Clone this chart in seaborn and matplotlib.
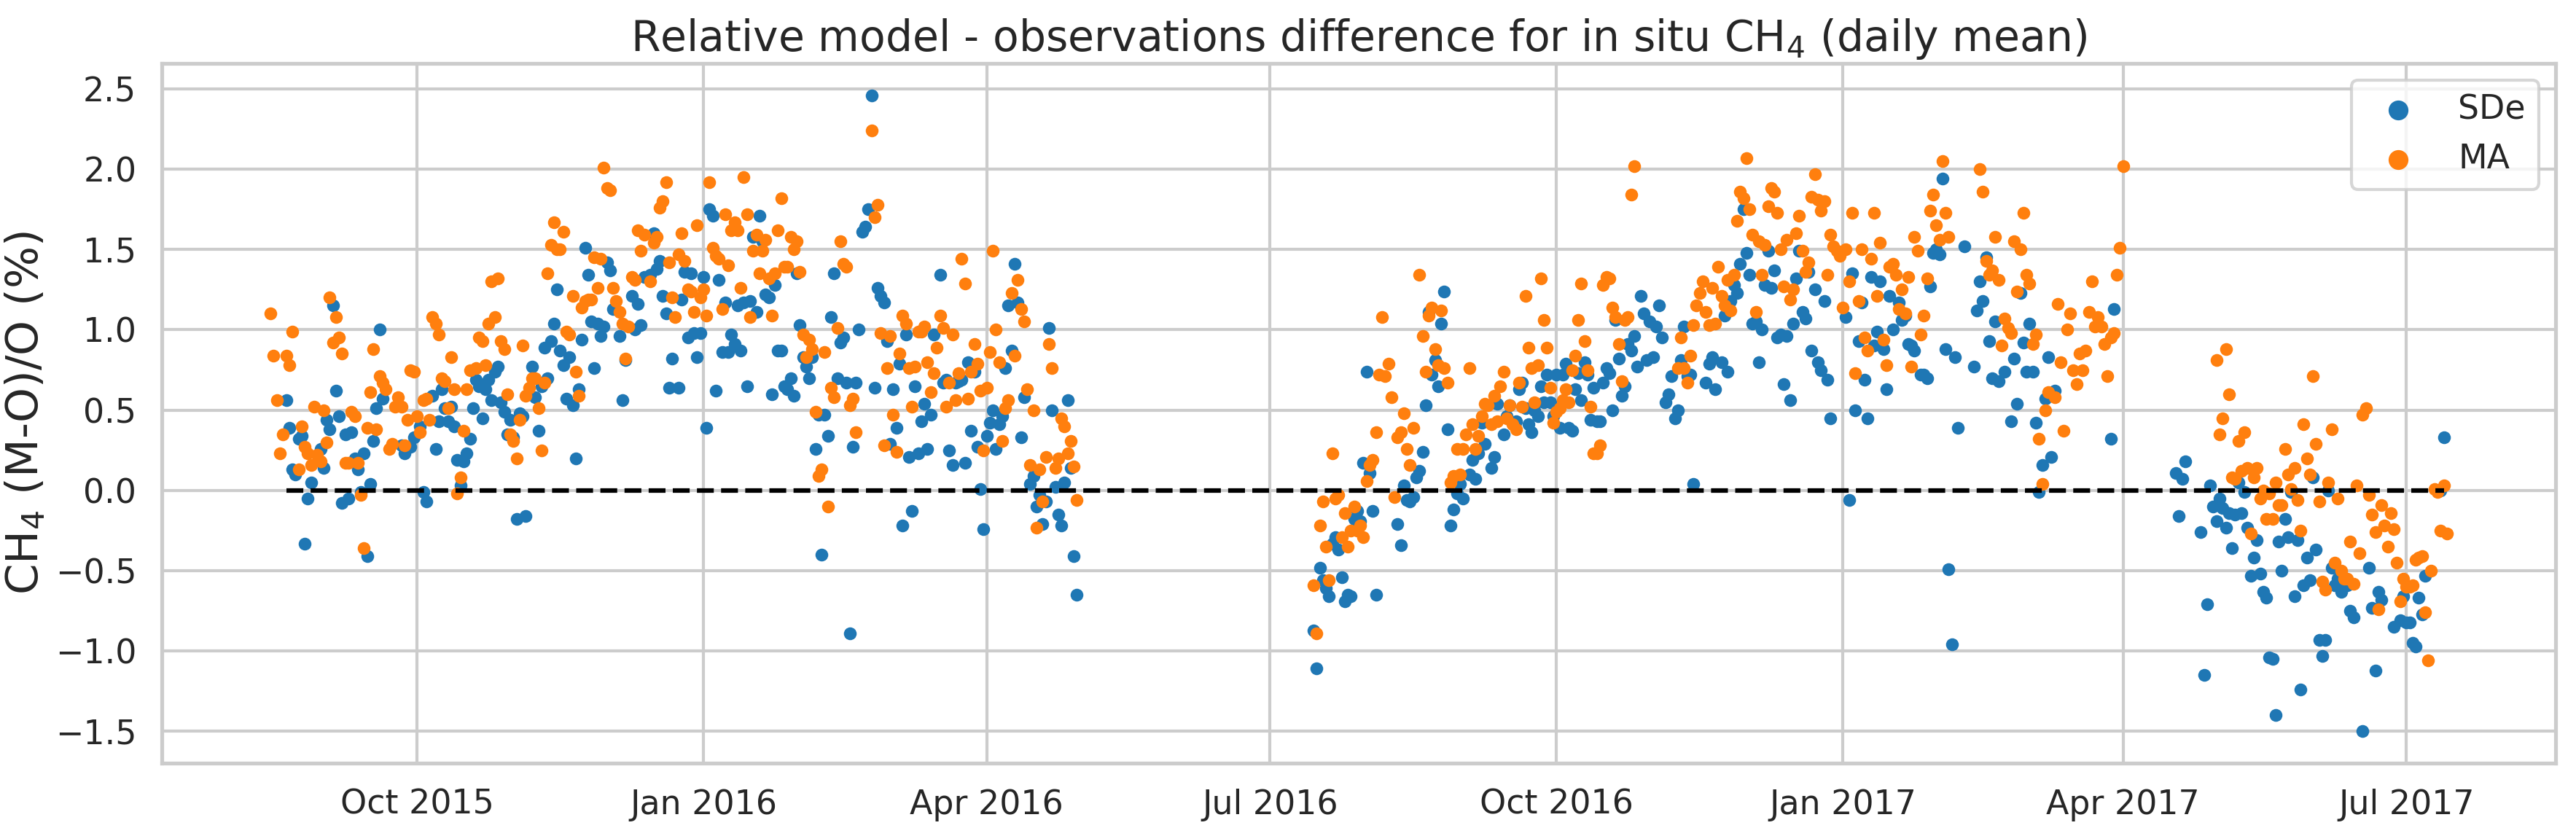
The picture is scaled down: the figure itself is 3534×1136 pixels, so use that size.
import numpy as np
import pandas as pd
import matplotlib
matplotlib.use("Agg")
import matplotlib.pyplot as plt
import matplotlib.dates as mdates
import seaborn as sns

# ---------------------------------------------------------
# DATA (daily means, day number counted from 2015-10-01)
# ---------------------------------------------------------

base_date = "2015-10-01"

sde_day = [
    -42, -41, -40, -39, -38, -37, -36, -35, -34, -31, -30, -29, -28, -27, -26, -25,
    -24, -23, -22, -21, -20, -19, -18, -17, -16, -15, -14, -13, -12, -11, -5, -4,
    -2, -1, 1, 2, 3, 5, 6, 7, 8, 9, 10, 11, 12, 13, 14, 15, 16, 17, 18, 19, 20,
    21, 22, 23, 24, 25, 26, 27, 28, 29, 30, 31, 32, 33, 34, 35, 37, 38, 39, 40,
    41, 42, 43, 44, 45, 46, 47, 48, 49, 50, 51, 52, 53, 54, 55, 56, 57, 58, 59,
    60, 61, 62, 63, 65, 66, 67, 69, 70, 71, 72, 73, 75, 76, 77, 78, 79, 80, 81,
    82, 84, 85, 86, 87, 88, 89, 90, 91, 92, 93, 94, 95, 96, 97, 98, 99, 100,
    101, 102, 103, 104, 105, 106, 107, 108, 109, 110, 111, 112, 113, 114, 115,
    116, 117, 118, 119, 120, 121, 122, 123, 124, 125, 126, 127, 128, 129, 130,
    131, 132, 133, 134, 135, 136, 137, 138, 139, 140, 141, 142, 143, 144, 145,
    146, 147, 148, 149, 150, 151, 152, 153, 154, 155, 156, 157, 158, 159, 160,
    161, 162, 163, 164, 165, 166, 168, 169, 170, 171, 172, 173, 174, 175, 176,
    177, 178, 179, 180, 181, 182, 183, 184, 185, 186, 187, 188, 189, 190, 191,
    192, 193, 194, 195, 197, 198, 199, 200, 201, 202, 203, 204, 205, 206, 207,
    208, 209, 210, 211, 212,
    288, 289, 290, 291, 292, 293, 294, 295, 296, 297, 298, 299, 300, 301, 302,
    303, 304, 305, 306, 307, 308, 315, 316, 317, 318, 319, 320, 321, 322, 323,
    324, 325, 326, 327, 328, 329, 330, 331, 332, 333, 334, 335, 336, 338, 339,
    340, 341, 342, 343, 345, 346, 347, 349, 350, 351, 353, 354, 355, 356, 357,
    358, 359, 360, 361, 362, 363, 364, 365, 366, 367, 368, 369, 370, 371, 372,
    373, 374, 375, 376, 377, 378, 379, 380, 381, 382, 383, 384, 385, 386, 387,
    388, 389, 390, 391, 392, 393, 394, 395, 396, 397, 398, 399, 400, 401, 402,
    403, 404, 405, 406, 407, 408, 409, 410, 414, 415, 416, 417, 419, 420, 421,
    422, 423, 424, 425, 426, 427, 428, 429, 430, 431, 432, 433, 434, 435, 436,
    437, 438, 439, 440, 441, 442, 443, 444, 445, 446, 447, 448, 449, 450, 451,
    452, 453, 454, 459, 460, 461, 462, 463, 464, 465, 466, 467, 468, 469, 470,
    471, 472, 473, 474, 476, 477, 478, 479, 480, 481, 483, 484, 485, 486, 487,
    488, 489, 490, 491, 492, 493, 494, 495, 497, 500, 501, 502, 503, 504, 505,
    506, 507, 508, 510, 512, 513, 514, 515, 516, 517, 518, 519, 520, 521, 522,
    523, 524, 525, 526, 544, 545,
    565, 566, 567, 568, 573, 574, 575, 576, 577, 578, 579, 580, 581, 582, 583,
    584, 585, 586, 587, 588, 589, 590, 591, 592, 593, 594, 595, 596, 597, 598,
    599, 600, 601, 602, 603, 604, 605, 606, 607, 608, 609, 610, 611, 612, 613,
    614, 615, 616, 617, 618, 619, 620, 621, 622, 625, 627, 628, 629, 630, 631,
    635, 637, 638, 639, 640, 641, 642, 643, 644, 645, 650, 651,
]
sde_val = [
    0.56, 0.39, 0.13, 0.10, 0.32, 0.34, -0.33, -0.05, 0.05, 0.26, 0.14, 0.44, 0.38, 1.15, 0.62, 0.46,
    -0.08, 0.35, -0.05, 0.36, 0.20, 0.13, -0.01, 0.23, -0.41, 0.04, 0.31, 0.51, 1.00, 0.57, 0.28, 0.23,
    0.27, 0.33, 0.40, -0.01, -0.07, 0.59, 0.26, 0.43, 0.63, 0.51, 0.43, 0.52, 0.40, 0.19, 0.03, 0.18, 0.23, 0.32, 0.51, 0.69, 0.65,
    0.45, 0.63, 0.69, 0.56, 0.74, 0.77, 0.55, 0.49, 0.35, 0.44, 0.33, -0.18, 0.48, 0.46, -0.16, 0.77, 0.58, 0.37, 0.65,
    0.89, 0.70, 0.93, 1.04, 1.25, 0.87, 0.78, 0.57, 0.83, 0.53, 0.20, 0.63, 0.94, 1.51, 1.34, 1.05, 0.76, 1.04, 0.96,
    1.02, 1.42, 1.37, 1.13, 0.96, 0.56, 0.81, 1.21, 1.00, 1.16, 1.03, 1.33, 1.34, 1.60, 1.38, 1.43, 1.21, 1.10, 0.64,
    0.82, 0.64, 1.19, 1.36, 0.95, 1.35, 0.98, 0.83, 0.98, 1.33, 0.39, 1.75, 1.71, 0.62, 1.31, 0.86, 1.17, 0.86,
    0.97, 0.91, 1.15, 0.87, 1.17, 0.65, 1.18, 1.58, 1.11, 1.71, 1.55, 1.22, 1.20, 0.60, 1.28,
    0.87, 0.87, 0.65, 0.63, 0.70, 0.59, 1.35, 1.03, 0.83, 0.77, 0.70, 0.83, 0.26, 0.47, -0.40,
    0.47, 0.34, 1.08, 1.35, 0.70, 0.92, 0.95, 0.67, -0.89, 0.27, 0.67, 1.00, 1.61, 1.64, 1.75,
    2.46, 0.64, 1.26, 1.21, 1.17, 0.93, 0.29, 0.63, 0.39, 0.79, -0.22, 0.97, 0.21, -0.13, 0.65,
    0.23, 0.43, 0.54, 0.26, 0.47, 0.97, 1.34, 0.67, 0.69, 0.25, 0.16, 0.67, 0.68, 0.69, 0.17,
    0.80, 0.37, 0.74, 0.27, 0.01, -0.24, 0.34, 0.42, 0.50, 0.26, 0.41, 0.46, 0.76, 1.15, 0.87,
    1.41, 1.17, 0.33, 0.58, 0.04, 0.09, -0.10, -0.03, -0.21, -0.07, 1.01, 0.50, 0.02, -0.15, -0.22,
    0.05, 0.56, 0.14, -0.41, -0.65,
    -0.87, -1.11, -0.48, -0.56, -0.61, -0.66, -0.33, -0.29, -0.37, -0.54, -0.69, -0.65, -0.66, -0.18, -0.13,
    -0.19, 0.17, 0.74, 0.11, -0.13, -0.65, -0.21, -0.34, 0.03, -0.06, -0.07, -0.04, 0.08, 0.12, 0.24,
    0.53, 1.11, 0.72, 0.81, 0.65, 1.04, 1.24, 0.38, -0.22, -0.12, -0.02, 0.04, -0.05, 0.10, 0.19,
    0.07, 0.23, 0.42, 0.29, 0.14, 0.21, 0.54, 0.35, 0.46, 0.53, 0.43, 0.63, 0.67, 0.51, 0.41,
    0.36, 0.50, 0.46, 0.65, 0.55, 0.72, 0.55, 0.46, 0.72, 0.39, 0.72, 0.79, 0.39, 0.37, 0.63,
    0.73, 0.56, 0.80, 0.72, 0.44, 0.64, 0.43, 0.43, 0.67, 0.76, 0.73, 0.50, 1.06, 0.82, 0.59,
    0.65, 0.91, 0.87, 0.96, 0.77, 1.21, 1.10, 0.81, 1.05, 0.83, 1.02, 1.15, 0.95, 0.55, 0.60,
    0.71, 0.45, 0.50, 0.81, 1.02, 0.71, 0.72, 0.04, 0.67, 0.79, 0.83, 0.63, 0.80, 1.09, 0.74,
    1.18, 1.28, 1.23, 1.41, 1.75, 1.48, 1.34, 1.04, 1.05, 0.80, 1.00, 1.28, 1.49, 1.26, 1.37,
    0.95, 0.97, 0.66, 0.96, 0.56, 1.04, 1.32, 1.49, 1.11, 1.07, 1.36, 0.87, 1.25, 0.80, 0.75,
    1.18, 0.69, 0.45, 1.08, -0.06, 1.35, 0.50, 0.93, 1.17, 0.69, 0.45, 1.33, 0.90, 0.99, 1.30,
    0.88, 0.63, 1.21, 1.00, 1.17, 1.06, 1.09, 0.91, 0.90, 0.87, 0.72, 0.72, 0.70, 1.27, 1.48,
    1.50, 1.47, 1.94, 0.88, -0.49, -0.96, 0.83, 0.39, 1.52, 0.77, 1.12, 1.30, 1.18, 1.45, 0.93,
    0.70, 1.05, 0.68, 0.74, 0.43, 0.82, 0.54, 1.23, 0.92, 0.74, 1.04, 0.74, 0.42, -0.01, 0.16,
    0.57, 0.83, 0.21, 0.62, 0.32, 1.13,
    0.11, -0.16, 0.07, 0.18, -0.26, -1.15, -0.71, 0.03, -0.10, -0.19, -0.05, -0.11, -0.23, -0.14, -0.36,
    -0.15, 0.05, -0.14, -0.01, -0.23, -0.53, -0.42, -0.31, -0.52, -0.63, -0.67, -1.04, -1.05, -1.40, -0.32,
    -0.50, -0.18, -0.29, -0.01, -0.66, -0.31, -1.24, -0.59, -0.42, -0.56, 0.08, -0.37, -0.93, -1.03, -0.93,
    0.00, -0.48, -0.59, -0.55, -0.63, -0.59, -0.59, -0.75, -0.79, -1.50, -0.48, -0.73, -1.12, -0.63, -0.68,
    -0.85, -0.81, -0.66, -0.82, -0.82, -0.95, -0.97, -0.67, -0.77, -0.53, 0.00, 0.33,
]

ma_day = [
    -47, -46, -45, -44, -43, -42, -41, -40, -38, -37, -36, -35, -34, -33, -32, -31,
    -30, -29, -28, -27, -26, -25, -24, -23, -22, -21, -20, -19, -18, -17, -16, -15,
    -14, -13, -12, -11, -10, -9, -8, -7, -6, -5, -4, -3, -2, -1, 0, 1, 2, 3, 4, 5,
    6, 7, 8, 9, 10, 11, 12, 13, 14, 15, 16, 17, 19, 20, 21, 22, 23, 24, 25, 26,
    27, 28, 29, 30, 31, 32, 33, 34, 35, 36, 37, 38, 39, 40, 41, 42, 43, 44, 45,
    46, 47, 48, 49, 50, 51, 52, 53, 54, 55, 56, 57, 58, 59, 60, 61, 62, 63, 64,
    65, 66, 67, 68, 69, 70, 71, 72, 73, 75, 76, 77, 78, 79, 80, 81, 82, 83, 84,
    85, 86, 87, 88, 89, 90, 91, 92, 93, 94, 95, 96, 97, 98, 99, 100, 101, 102,
    103, 104, 105, 106, 107, 108, 109, 110, 111, 112, 113, 114, 115, 116, 117,
    118, 119, 120, 121, 122, 123, 124, 125, 126, 127, 128, 129, 130, 131, 132,
    133, 134, 135, 136, 137, 138, 139, 140, 141, 146, 147, 148, 149, 150, 151,
    152, 153, 154, 155, 156, 157, 158, 159, 160, 161, 162, 163, 164, 165, 166,
    167, 168, 169, 170, 171, 172, 173, 174, 175, 176, 177, 178, 179, 180, 181,
    182, 183, 184, 185, 186, 187, 188, 189, 190, 191, 192, 193, 194, 195, 196,
    197, 198, 199, 200, 201, 202, 203, 204, 205, 206, 207, 208, 209, 210, 211, 212,
    288, 289, 290, 291, 292, 293, 294, 295, 296, 297, 298, 299, 300, 301, 302,
    303, 304, 305, 306, 307, 308, 309, 310, 311, 312, 313, 314, 315, 316, 317,
    318, 319, 320, 322, 323, 324, 325, 326, 327, 328, 329, 330, 331, 332, 333,
    334, 335, 336, 337, 338, 339, 340, 341, 342, 343, 344, 345, 346, 347, 348,
    349, 350, 351, 352, 353, 354, 355, 356, 357, 358, 359, 360, 361, 362, 363,
    364, 365, 366, 367, 368, 369, 370, 371, 372, 373, 374, 375, 376, 377, 378,
    379, 380, 381, 382, 383, 384, 385, 386, 387, 388, 389, 390, 391, 405, 406,
    407, 408, 409, 410, 411, 412, 413, 414, 415, 416, 417, 418, 419, 420, 421,
    422, 423, 424, 425, 426, 427, 428, 429, 430, 431, 432, 433, 434, 435, 436,
    437, 438, 439, 440, 441, 442, 443, 444, 445, 446, 447, 448, 449, 450, 451,
    452, 453, 454, 455, 456, 457, 458, 459, 460, 461, 462, 463, 464, 465, 466,
    467, 468, 469, 470, 471, 472, 473, 474, 475, 476, 477, 478, 479, 480, 481,
    482, 483, 484, 485, 486, 487, 488, 489, 490, 491, 492, 502, 503, 504, 505,
    506, 507, 508, 509, 510, 511, 512, 513, 514, 515, 516, 517, 518, 519, 520,
    521, 522, 523, 524, 526, 527, 528, 529, 530, 531, 532, 533, 534, 535, 536,
    537, 538, 539, 540, 541, 542, 543, 544, 545, 546, 547, 548,
    578, 579, 580, 581, 582, 583, 584, 585, 586, 587, 588, 589, 590, 591, 592,
    593, 594, 595, 596, 597, 598, 599, 600, 601, 602, 603, 604, 605, 606, 607,
    608, 609, 610, 611, 612, 613, 614, 615, 616, 617, 618, 619, 620, 621, 622,
    623, 624, 625, 626, 627, 628, 629, 630, 631, 632, 633, 634, 635, 636, 637,
    638, 639, 640, 641, 642, 643, 644, 645, 646, 647, 648, 649, 650, 651, 652,
]
ma_val = [
    1.10, 0.84, 0.56, 0.23, 0.35, 0.84, 0.78, 0.99, 0.13, 0.40, 0.27, 0.23, 0.16, 0.52, 0.22, 0.18,
    0.50, 0.30, 1.20, 0.92, 1.08, 0.95, 0.85, 0.17, 0.17, 0.49, 0.46, 0.17, -0.03, -0.36, 0.39, 0.61,
    0.88, 0.38, 0.71, 0.67, 0.63, 0.26, 0.29, 0.52, 0.58, 0.52, 0.28, 0.44, 0.75, 0.74, 0.46, 0.36, 0.56, 0.57, 0.44, 1.08,
    1.04, 0.97, 0.70, 0.68, 0.51, 0.83, 0.63, -0.02, 0.08, 0.37, 0.63, 0.75, 0.76, 0.95, 0.93, 0.78, 1.04, 1.30, 1.08, 1.32,
    0.93, 0.88, 0.60, 0.35, 0.31, 0.20, 0.44, 0.90, 0.59, 0.64, 0.70, 0.70, 0.51, 0.25, 0.67, 1.35, 1.53, 1.67, 1.50,
    1.50, 1.61, 0.99, 0.97, 1.21, 0.74, 0.59, 1.14, 1.18, 1.19, 1.19, 1.45, 1.26, 1.44, 2.01, 1.88, 1.87, 1.26, 1.18,
    1.11, 1.04, 0.82, 1.02, 1.33, 1.31, 1.62, 1.49, 1.59, 1.30, 1.54, 1.58, 1.76, 1.80, 1.92, 1.42, 1.20, 1.08, 1.47,
    1.60, 1.43, 1.25, 1.24, 1.11, 1.65, 1.20, 1.25, 1.09, 1.92, 1.51, 1.46, 1.44, 1.13, 1.72, 1.40, 1.62, 1.67,
    1.62, 1.26, 1.95, 1.72, 1.08, 1.49, 1.59, 1.35, 1.49, 1.56, 1.32, 1.09, 1.35, 1.62, 1.82,
    1.39, 1.39, 1.58, 1.50, 1.55, 1.36, 0.97, 0.83, 0.94, 0.88, 0.49, 0.09, 0.13, 0.86, -0.10,
    0.64, 0.58, 1.01, 1.55, 1.41, 1.39, 0.53, 0.57, 0.36, 2.24, 1.70, 1.78, 0.98, 0.28, 0.76,
    0.96, 0.47, 0.24, 0.85, 1.09, 1.04, 0.76, 0.52, 0.77, 0.99, 0.99, 1.02, 0.80, 0.61, 0.73,
    0.89, 1.09, 1.01, 0.52, 0.67, 0.97, 0.56, 0.73, 1.44, 1.29, 0.57, 0.74, 0.91, 0.79, 0.62,
    0.25, 0.64, 0.86, 1.49, 1.00, 0.80, 0.31, 0.51, 0.56, 1.23, 0.84, 1.31, 1.13, 1.05, 0.63,
    0.16, 0.50, -0.23, 0.13, -0.07, 0.21, 0.91, 0.76, 0.14, 0.20, 0.45, 0.40, 0.23, 0.31, 0.15, -0.06,
    -0.59, -0.89, -0.22, -0.07, -0.35, -0.56, 0.23, -0.05, -0.03, -0.29, -0.14, -0.35, -0.25, -0.10, -0.25,
    -0.22, -0.29, 0.06, 0.16, 0.19, 0.36, 0.72, 1.08, 0.71, 0.79, 0.58, -0.04, 0.33, 0.36, 0.48,
    0.26, 0.16, 0.39, 1.34, 0.96, 0.74, 1.09, 1.14, 0.88, 0.78, 1.12, 0.76, 0.67, 0.05, 0.09,
    0.26, 0.10, 0.26, 0.35, 0.76, 0.41, 0.26, 0.34, 0.46, 0.54, 0.53, 0.41, 0.59, 0.43, 0.65,
    0.74, 0.45, 0.53, 0.41, 0.38, 0.67, 0.52, 1.21, 0.89, 0.76, 0.55, 0.78, 1.32, 1.06, 0.89,
    0.64, 0.42, 0.49, 0.51, 0.56, 0.63, 0.55, 0.75, 0.84, 1.06, 1.29, 0.93, 0.75, 0.52, 0.23,
    0.23, 0.28, 1.28, 1.33, 1.32, 1.14, 1.08, 0.91, 0.68, 1.06, 1.08, 1.84, 2.02, 0.76, 0.95,
    0.76, 0.67, 0.84, 1.03, 1.15, 1.23, 1.30, 1.11, 1.03, 1.26, 1.04, 1.39, 1.21, 1.15, 1.31,
    1.12, 1.34, 1.68, 1.86, 1.82, 2.07, 1.75, 1.59, 1.11, 1.55, 1.34, 1.53, 1.77, 1.88, 1.86,
    1.73, 1.50, 1.27, 1.56, 1.19, 1.25, 1.60, 1.71, 1.49, 1.36, 1.42, 1.83, 1.97, 1.81, 1.74,
    1.80, 1.34, 1.59, 1.52, 1.49, 1.46, 1.14, 1.50, 1.30, 1.73, 0.73, 1.18, 1.50, 0.95, 0.87,
    1.44, 1.73, 1.21, 1.54, 0.94, 0.78, 1.39, 1.41, 1.34, 1.13, 1.25, 1.10, 1.33, 0.77, 1.58,
    1.49, 0.97, 1.09, 1.32, 1.74, 1.84, 1.65, 1.56, 2.05, 1.73, 1.58, 2.00, 1.86, 1.43, 1.34,
    1.37, 1.58, 1.31, 0.90, 1.07, 1.01, 0.98, 1.55, 1.24, 1.50, 1.73, 1.34, 1.29, 0.91, 0.97,
    0.32, 0.04, 0.50, 0.61, 0.58, 1.16, 0.80, 0.37, 1.00, 1.10, 0.75, 0.66, 0.85, 0.75, 0.87,
    1.11, 1.30, 1.02, 1.08, 1.02, 0.91, 0.71, 0.95, 0.98, 1.34, 1.51, 2.02,
    0.81, 0.35, 0.45, 0.88, 0.60, 0.08, 0.07, 0.31, 0.12, 0.36, 0.14, -0.27, 0.08, 0.14, -0.05,
    0.00, -0.18, -0.02, -0.18, 0.05, -0.09, -0.09, 0.26, 0.10, 0.01, 0.14, -0.06, -0.25, 0.41, 0.20,
    0.10, 0.71, 0.29, -0.07, -0.57, -0.62, 0.05, 0.38, -0.45, -0.05, -0.50, -0.55, -0.55, -0.32, -0.58,
    0.03, -0.39, 0.47, 0.51, -0.03, -0.15, -0.26, -0.74, -0.09, -0.22, -0.35, -0.14, -0.24, -0.45, -0.69,
    -0.55, -0.60, -0.60, -0.59, -0.43, -0.42, -0.41, -0.76, -1.06, -0.50, 0.01, -0.01, -0.25, 0.03, -0.27,
]

# zero reference line over the observation period
zero_dates = ["2015-08-20", "2017-07-13"]
zero_vals = [0.0, 0.0]

series_names = ["SDe", "MA"]
series_colors = ["#1f77b4", "#ff7f0e"]

# ---------------------------------------------------------
# BUILD TABLES
# ---------------------------------------------------------

start = pd.Timestamp(base_date)
sde = pd.DataFrame({"date": start + pd.to_timedelta(sde_day, unit="D"), "diff": sde_val})
ma = pd.DataFrame({"date": start + pd.to_timedelta(ma_day, unit="D"), "diff": ma_val})

# ---------------------------------------------------------
# PLOT
# ---------------------------------------------------------

sns.set_theme(style="whitegrid", context="talk")
plt.rcParams["font.family"] = ["DejaVu Sans"]

fig, ax = plt.subplots(figsize=(17.67, 5.68), dpi=200)
fig.subplots_adjust(left=0.0628, right=0.9921, bottom=0.0783, top=0.9234)

sns.scatterplot(data=sde, x="date", y="diff", color=series_colors[0],
                s=40, linewidth=0, label=series_names[0], ax=ax)
sns.scatterplot(data=ma, x="date", y="diff", color=series_colors[1],
                s=40, linewidth=0, label=series_names[1], ax=ax)

ax.plot(pd.to_datetime(zero_dates), zero_vals, color="black", linestyle="--")

ax.xaxis.set_major_locator(mdates.MonthLocator(bymonth=[1, 4, 7, 10]))
ax.xaxis.set_major_formatter(mdates.DateFormatter("%b %Y"))
ax.set_yticks([-1.5, -1.0, -0.5, 0.0, 0.5, 1.0, 1.5, 2.0, 2.5])

ax.set_xlabel("")
ax.set_ylabel("CH$_4$ (M-O)/O (%)", fontsize=22)
ax.set_title("Relative model - observations difference for in situ CH$_4$ (daily mean)",
             fontsize=21)

ax.legend(loc="upper right", markerscale=1.55)

fig.savefig("out.png", dpi=200)
